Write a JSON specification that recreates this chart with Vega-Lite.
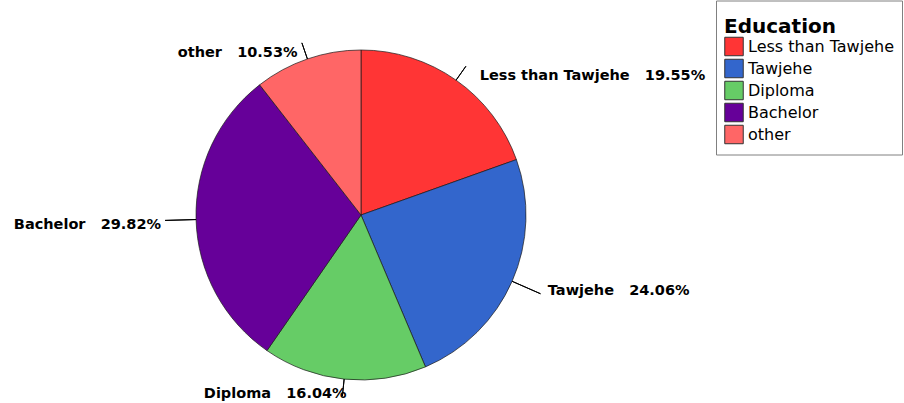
{
  "$schema": "https://vega.github.io/schema/vega-lite/v6.json",
  "width": 722,
  "height": 376,
  "autosize": {"type": "none"},
  "padding": {"left": 0, "top": 27, "right": 182, "bottom": 0},
  "background": "white",
  "config": {"view": {"stroke": null}},
  "data": {
    "values": [
      {"idx": 1, "Education": "Less than Tawjehe", "pct": 19.55, "label": "Less than Tawjehe\u00a0\u00a0\u00a019.55%"},
      {"idx": 2, "Education": "Tawjehe", "pct": 24.06, "label": "Tawjehe\u00a0\u00a0\u00a024.06%"},
      {"idx": 3, "Education": "Diploma", "pct": 16.04, "label": "Diploma\u00a0\u00a0\u00a016.04%"},
      {"idx": 4, "Education": "Bachelor", "pct": 29.82, "label": "Bachelor\u00a0\u00a0\u00a029.82%"},
      {"idx": 5, "Education": "other", "pct": 10.53, "label": "other\u00a0\u00a0\u00a010.53%"}
    ]
  },
  "encoding": {
    "theta": {"field": "pct", "type": "quantitative", "stack": true},
    "order": {"field": "idx", "type": "quantitative", "sort": "ascending"}
  },
  "layer": [
    {
      "mark": {"type": "arc", "outerRadius": 165, "stroke": "#1a1a1a", "strokeWidth": 0.7},
      "encoding": {
        "color": {
          "field": "Education",
          "type": "nominal",
          "scale": {
            "domain": ["Less than Tawjehe", "Tawjehe", "Diploma", "Bachelor", "other"],
            "range": ["#ff3535", "#3366cc", "#66cc66", "#660099", "#ff6666"]
          },
          "legend": {
            "orient": "none",
            "legendX": 716,
            "legendY": -26.5,
            "title": ["", "Education"],
            "titleLineHeight": 8,
            "titleFont": "DejaVu Sans",
            "titleFontSize": 20,
            "titleFontWeight": "bold",
            "titleColor": "black",
            "titlePadding": 0,
            "labelFont": "DejaVu Sans",
            "labelFontSize": 16,
            "labelColor": "black",
            "labelOffset": 4,
            "labelLimit": 300,
            "symbolType": "square",
            "symbolSize": 342,
            "symbolStrokeColor": "#333333",
            "symbolStrokeWidth": 1,
            "symbolOpacity": 1,
            "rowPadding": -2,
            "padding": 8,
            "strokeColor": "#808080",
            "fillColor": "white"
          }
        }
      }
    },
    {
      "mark": {"type": "arc", "outerRadius": 196, "innerRadius": 165, "padAngle": 3, "stroke": "black", "strokeWidth": 1},
      "encoding": {
        "color": {"value": "black"},
        "detail": {"field": "Education", "type": "nominal"},
        "strokeOpacity": {"condition": {"test": "datum.Education === 'Tawjehe' || datum.Education === 'Bachelor'", "value": 1}, "value": 0}
      }
    },
    {
      "mark": {"type": "arc", "outerRadius": 182, "innerRadius": 165, "padAngle": 3, "stroke": "black", "strokeWidth": 1},
      "encoding": {
        "color": {"value": "black"},
        "detail": {"field": "Education", "type": "nominal"},
        "strokeOpacity": {"condition": {"test": "datum.Education !== 'Tawjehe' && datum.Education !== 'Bachelor'", "value": 1}, "value": 0}
      }
    },
    {
      "mark": {"type": "text", "radius": 180, "align": "left", "baseline": "middle", "dx": 15, "dy": 8, "font": "DejaVu Sans", "fontSize": 14.5, "fontWeight": "bold"},
      "encoding": {
        "color": {"value": "black"},
        "detail": {"field": "Education", "type": "nominal"},
        "text": {"condition": {"test": "datum.Education === 'Less than Tawjehe'", "field": "label"}, "value": ""}
      }
    },
    {
      "mark": {"type": "text", "radius": 180, "align": "left", "baseline": "middle", "dx": 22, "dy": 4, "font": "DejaVu Sans", "fontSize": 14.5, "fontWeight": "bold"},
      "encoding": {
        "color": {"value": "black"},
        "detail": {"field": "Education", "type": "nominal"},
        "text": {"condition": {"test": "datum.Education === 'Tawjehe'", "field": "label"}, "value": ""}
      }
    },
    {
      "mark": {"type": "text", "radius": 180, "align": "right", "baseline": "middle", "dx": 4, "dy": 0, "font": "DejaVu Sans", "fontSize": 14.5, "fontWeight": "bold"},
      "encoding": {
        "color": {"value": "black"},
        "detail": {"field": "Education", "type": "nominal"},
        "text": {"condition": {"test": "datum.Education === 'Diploma'", "field": "label"}, "value": ""}
      }
    },
    {
      "mark": {"type": "text", "radius": 180, "align": "right", "baseline": "middle", "dx": -20, "dy": 5, "font": "DejaVu Sans", "fontSize": 14.5, "fontWeight": "bold"},
      "encoding": {
        "color": {"value": "black"},
        "detail": {"field": "Education", "type": "nominal"},
        "text": {"condition": {"test": "datum.Education === 'Bachelor'", "field": "label"}, "value": ""}
      }
    },
    {
      "mark": {"type": "text", "radius": 180, "align": "right", "baseline": "middle", "dx": -5, "dy": 8, "font": "DejaVu Sans", "fontSize": 14.5, "fontWeight": "bold"},
      "encoding": {
        "color": {"value": "black"},
        "detail": {"field": "Education", "type": "nominal"},
        "text": {"condition": {"test": "datum.Education === 'other'", "field": "label"}, "value": ""}
      }
    }
  ]
}
